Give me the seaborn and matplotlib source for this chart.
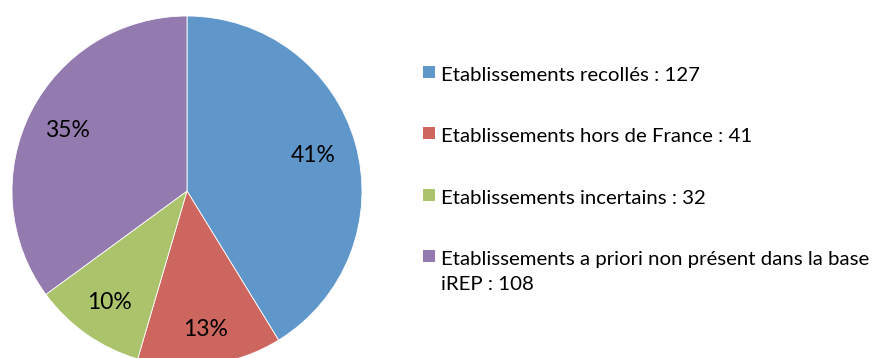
import matplotlib
matplotlib.use("Agg")
import numpy as np
import matplotlib.pyplot as plt
from matplotlib.patches import Rectangle
import seaborn as sns

categories = [
    "Etablissements recollés : 127",
    "Etablissements hors de France : 41",
    "Etablissements incertains : 32",
    "Etablissements a priori non présent dans la base\niREP : 108",
]
counts = [127, 41, 32, 108]
colors = ["#6097CB", "#CD665F", "#ABC46C", "#937AAF"]
# radial position of each percentage label (fraction of the radius)
label_dist = [0.75, 0.80, 0.775, 0.765]

sns.set_theme(style="white")
plt.rcParams["font.family"] = ["Lato", "DejaVu Sans"]

W, H = 879, 358
fig = plt.figure(figsize=(W / 100, H / 100), dpi=100)
fig.patch.set_facecolor("white")

# Pie: centre at (187, 191) px, radius 175 px
cx, cy, r = 187, 191, 175
ax = fig.add_axes([(cx - r) / W, (H - cy - r) / H, 2 * r / W, 2 * r / H])
wedges, texts, autotexts = ax.pie(
    counts,
    colors=colors,
    startangle=90,
    counterclock=False,
    autopct="%1.0f%%",
    pctdistance=0.77,
    radius=1.0,
    wedgeprops=dict(edgecolor="white", linewidth=0.6),
    textprops=dict(fontsize=16.5, color="black"),
)
for w, t, d in zip(wedges, autotexts, label_dist):
    mid = np.deg2rad((w.theta1 + w.theta2) / 2)
    t.set_position((d * np.cos(mid), d * np.sin(mid)))
ax.set_xlim(-1, 1)
ax.set_ylim(-1, 1)
ax.set_aspect("equal")
ax.axis("off")

# Legend in figure pixels: square marker next to the first text line
baselines = [81, 142, 204, 265]
line_step = 25
marker_x, text_x, msize = 423, 441, 12
for label, color, yb in zip(categories, colors, baselines):
    fig.patches.append(Rectangle((marker_x / W, (H - (yb - 3.5)) / H),
                                 msize / W, msize / H, transform=fig.transFigure,
                                 facecolor=color, edgecolor="none"))
    for i, line in enumerate(label.split("\n")):
        fig.text(text_x / W, (H - (yb + i * line_step)) / H, line,
                 ha="left", va="baseline", fontsize=14.7, color="black")

fig.savefig("out.png", dpi=100, facecolor="white")
